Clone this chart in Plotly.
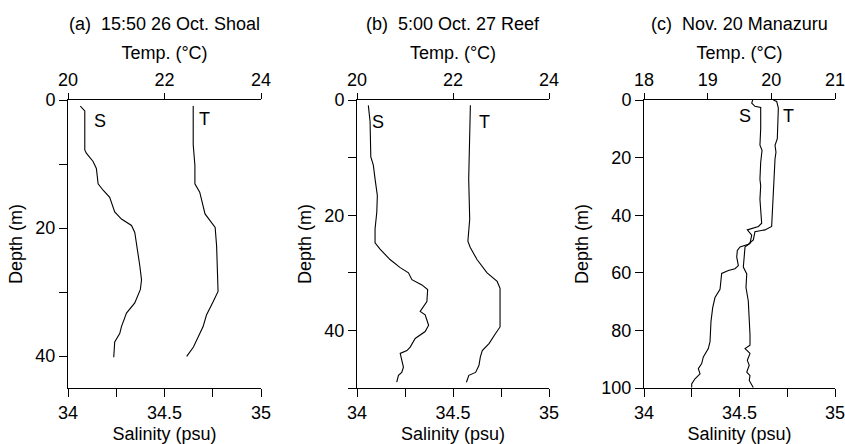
import plotly.graph_objects as go

# ---------------- data ----------------
# Panel (a) 15:50 26 Oct. Shoal
a_sal_depth = [0.95, 1.7, 7.8, 8.3, 9.6, 10.7, 13.1, 14.1, 15.2, 17.5, 18.6, 19.6, 20.7, 23.8, 25.9, 28.1, 29.6, 31.7, 33.3, 35.4, 36.5, 37.8, 40.2]
a_sal = [34.064, 34.087, 34.087, 34.095, 34.130, 34.147, 34.156, 34.182, 34.216, 34.242, 34.277, 34.329, 34.346, 34.363, 34.372, 34.381, 34.375, 34.346, 34.303, 34.277, 34.268, 34.242, 34.237]
a_tmp_depth = [0.95, 7.0, 10.2, 13.1, 14.4, 16.5, 17.8, 18.8, 19.9, 22.8, 25.9, 29.9, 31.5, 33.6, 35.4, 37.0, 38.6, 40.05]
a_tmp = [22.595, 22.595, 22.63, 22.63, 22.73, 22.80, 22.84, 22.94, 23.05, 23.08, 23.10, 23.11, 23.01, 22.87, 22.80, 22.70, 22.60, 22.46]

# Panel (b) 5:00 Oct. 27 Reef
b_sal_depth = [0.93, 3.7, 9.9, 11.3, 13.7, 16.6, 19.5, 22.4, 24.8, 25.9, 27.7, 29.1, 30.0, 31.2, 32.1, 32.9, 35.0, 35.9, 36.7, 37.3, 39.1, 40.2, 41.4, 42.9, 43.5, 44.0, 46.4, 47.3, 47.8, 49.0]
b_sal = [34.059, 34.068, 34.072, 34.085, 34.094, 34.106, 34.103, 34.094, 34.094, 34.120, 34.172, 34.225, 34.268, 34.286, 34.338, 34.368, 34.364, 34.347, 34.329, 34.355, 34.373, 34.355, 34.303, 34.277, 34.260, 34.225, 34.242, 34.233, 34.216, 34.207]
b_tmp_depth = [0.93, 7.8, 13.7, 20.7, 24.5, 25.6, 27.7, 30.0, 31.5, 32.7, 39.4, 40.5, 42.3, 43.5, 44.6, 46.1, 47.3, 47.8, 49.0]
b_tmp = [22.362, 22.348, 22.327, 22.348, 22.31, 22.36, 22.50, 22.71, 22.92, 22.98, 22.98, 22.89, 22.75, 22.61, 22.57, 22.54, 22.47, 22.33, 22.28]

# Panel (c) Nov. 20 Manazuru
c_sal_depth = [0.0, 1.1, 2.2, 2.6, 9.9, 15.7, 17.5, 21.6, 27.5, 29.8, 34.5, 39.2, 42.8, 43.9, 44.5, 45.1, 46.9, 49.8, 51.0, 54.5, 58.0, 60.4, 65.1, 69.8, 74.5, 81.6, 85.1, 86.3, 88.0, 90.4, 92.1, 94.5, 95.7, 97.4, 99.8]
c_sal = [34.569, 34.564, 34.581, 34.611, 34.611, 34.607, 34.618, 34.611, 34.607, 34.611, 34.607, 34.613, 34.616, 34.599, 34.572, 34.541, 34.564, 34.555, 34.529, 34.524, 34.520, 34.538, 34.534, 34.546, 34.551, 34.555, 34.555, 34.529, 34.555, 34.541, 34.551, 34.538, 34.555, 34.551, 34.572]
c_tmp_depth = [0.0, 0.5, 2.8, 13.4, 15.7, 18.1, 20.4, 27.5, 34.5, 41.6, 43.9, 45.1, 45.7, 48.6, 50.1, 51.0, 52.2, 54.5, 57.5, 58.6, 59.2, 60.2, 62.7, 65.7, 68.6, 72.1, 76.9, 83.9, 86.3, 89.2, 91.5, 93.3, 95.1, 96.8, 98.6, 99.8]
c_tmp = [20.031, 20.084, 20.110, 20.094, 20.058, 20.073, 20.058, 20.042, 20.031, 20.021, 20.005, 19.900, 19.743, 19.717, 19.639, 19.508, 19.466, 19.456, 19.482, 19.429, 19.325, 19.220, 19.204, 19.194, 19.115, 19.079, 19.052, 19.037, 19.010, 18.932, 18.906, 18.853, 18.880, 18.801, 18.749, 18.749]

titles = ["(a)  15:50 26 Oct. Shoal", "(b)  5:00 Oct. 27 Reef", "(c)  Nov. 20 Manazuru"]
sal_ticks = [34, 34.25, 34.5, 34.75, 35]
sal_labels = ["34", "", "34.5", "", "35"]
temp_ticks_ab = [20, 22, 24]
temp_ticks_c = [18, 19, 20, 21]
depth_ticks_a = [0, 10, 20, 30, 40]
depth_labels_a = ["0", "", "20", "", "40"]
depth_ticks_b = [0, 10, 20, 30, 40, 50]
depth_labels_b = ["0", "", "20", "", "40", ""]
depth_ticks_c = [0, 20, 40, 60, 80, 100]
# S / T label positions (salinity, depth)
st_labels = [
    [("S", 34.166, 3.3), ("T", 34.705, 3.0)],
    [("S", 34.11, 3.8), ("T", 34.665, 3.8)],
    [("S", 34.529, 5.6), ("T", 34.754, 5.6)],
]

# ---------------- layout ----------------
W, H = 845, 444
FONT = "Liberation Sans, Arial, Helvetica, sans-serif"
FS = 18
px_dom = [(68, 261), (357, 549), (644, 835)]
ydom = [1 - 388 / H, 1 - 100 / H]

fig = go.Figure()
line = dict(color="black", width=1.1)

panels = [
    (a_sal, a_sal_depth, a_tmp, a_tmp_depth),
    (b_sal, b_sal_depth, b_tmp, b_tmp_depth),
    (c_sal, c_sal_depth, c_tmp, c_tmp_depth),
]
for i, (s, sd, t, td) in enumerate(panels):
    xb = "x" if i == 0 else f"x{2*i+1}"
    xt = f"x{2*i+2}"
    yk = "y" if i == 0 else f"y{i+1}"
    fig.add_trace(go.Scatter(x=s, y=sd, mode="lines", line=line, xaxis=xb, yaxis=yk, showlegend=False, hoverinfo="skip"))
    fig.add_trace(go.Scatter(x=t, y=td, mode="lines", line=line, xaxis=xt, yaxis=yk, showlegend=False, hoverinfo="skip"))

tfont = dict(family=FONT, size=FS, color="black")
axcommon = dict(showline=True, linecolor="black", linewidth=1, showgrid=False, zeroline=False,
                ticks="outside", tickcolor="black", tickwidth=1, automargin=False,
                ticklabeloverflow="allow", tickfont=tfont)
yranges = [[45, 0], [50, 0], [100, 0]]
ytv = [(depth_ticks_a, depth_labels_a), (depth_ticks_b, depth_labels_b), (depth_ticks_c, [str(v) for v in depth_ticks_c])]
trange = [[20, 24], [20, 24], [18, 21]]
ttick = [temp_ticks_ab, temp_ticks_ab, temp_ticks_c]

lay = {}
for i in range(3):
    d = [px_dom[i][0] / W, px_dom[i][1] / W]
    xbn = "xaxis" if i == 0 else f"xaxis{2*i+1}"
    xtn = f"xaxis{2*i+2}"
    ybn = "yaxis" if i == 0 else f"yaxis{i+1}"
    yk = "y" if i == 0 else f"y{i+1}"
    xbk = "x" if i == 0 else f"x{2*i+1}"
    lay[xbn] = dict(axcommon, domain=d, range=[34, 35], anchor=yk, side="bottom",
                    tickvals=sal_ticks, ticktext=sal_labels, ticklen=8,
                    title=dict(text="Salinity (psu)", font=tfont, standoff=8))
    lay[xtn] = dict(axcommon, range=trange[i], overlaying=xbk, anchor=yk, side="top",
                    tickvals=ttick[i], ticklen=6,
                    title=dict(text="Temp. (°C)", font=tfont, standoff=5))
    lay[ybn] = dict(axcommon, domain=ydom, range=yranges[i], anchor=xbk,
                    tickvals=ytv[i][0], ticktext=ytv[i][1], ticklen=8,
                    title=dict(text="Depth (m)", font=tfont, standoff=8))

annotations = []
for i in range(3):
    cx = (px_dom[i][0] + px_dom[i][1]) / 2 / W
    annotations.append(dict(text=titles[i], x=cx, y=1 - 24 / H, xref="paper", yref="paper",
                            showarrow=False, xanchor="center", yanchor="middle",
                            font=tfont))
    xbk = "x" if i == 0 else f"x{2*i+1}"
    yk = "y" if i == 0 else f"y{i+1}"
    for (txt, xv, yv) in st_labels[i]:
        annotations.append(dict(text=txt, x=xv, y=yv, xref=xbk, yref=yk, showarrow=False,
                                xanchor="center", yanchor="middle", font=tfont))

fig.update_layout(width=W, height=H, margin=dict(l=0, r=0, t=0, b=0, autoexpand=False),
                  paper_bgcolor="white", plot_bgcolor="white",
                  annotations=annotations, **lay)

fig.write_html("out.html")
